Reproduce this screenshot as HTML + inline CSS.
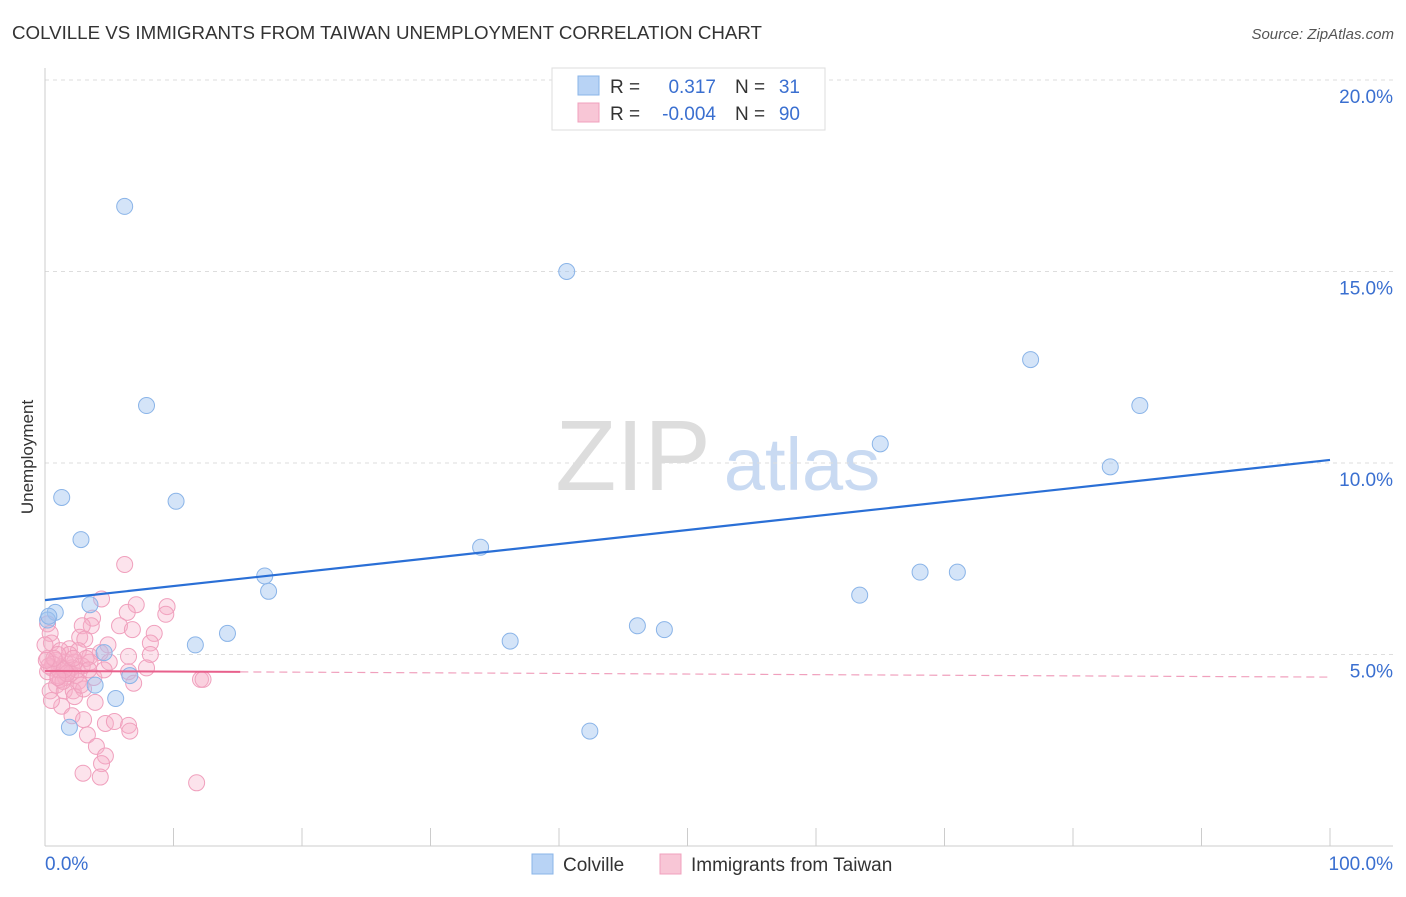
<!DOCTYPE html>
<html><head><meta charset="utf-8"><style>
body{margin:0;background:#fff;font-family:"Liberation Sans",sans-serif;}
svg text{font-family:"Liberation Sans",sans-serif;}
</style></head><body>
<svg id="chart" width="1406" height="892">
<text x="12" y="39" font-size="18" fill="#333" textLength="750" lengthAdjust="spacingAndGlyphs">COLVILLE VS IMMIGRANTS FROM TAIWAN UNEMPLOYMENT CORRELATION CHART</text>
<text x="1394" y="39" font-size="15" fill="#555" font-style="italic" text-anchor="end">Source: ZipAtlas.com</text>
<text transform="translate(33,457) rotate(-90)" font-size="17" fill="#333" text-anchor="middle">Unemployment</text>
<g>
<text x="633" y="490" font-size="100" fill="#ddd" font-family="Liberation Serif,serif" text-anchor="middle">ZIP</text>
<text x="802" y="490" font-size="74" fill="#c9daf2" text-anchor="middle">atlas</text>
</g>
<g id="grid"></g><g id="axes"></g><g id="marks"></g>
<g>
<rect x="552" y="68" width="273" height="62" fill="#fff" stroke="#ddd"/>
<rect x="578" y="76" width="21" height="19" fill="#b8d3f5" stroke="#8ab4e8"/>
<rect x="578" y="103" width="21" height="19" fill="#f8c6d6" stroke="#f0a0bd"/>
<text x="610" y="93" font-size="19" fill="#333">R =</text><text x="716" y="93" font-size="19" fill="#3a6fd0" text-anchor="end">0.317</text>
<text x="735" y="93" font-size="19" fill="#333">N =</text><text x="800" y="93" font-size="19" fill="#3a6fd0" text-anchor="end">31</text>
<text x="610" y="120" font-size="19" fill="#333">R =</text><text x="716" y="120" font-size="19" fill="#3a6fd0" text-anchor="end">-0.004</text>
<text x="735" y="120" font-size="19" fill="#333">N =</text><text x="800" y="120" font-size="19" fill="#3a6fd0" text-anchor="end">90</text>
</g>
<g>
<rect x="532" y="854" width="21" height="20" fill="#b8d3f5" stroke="#8ab4e8"/>
<text x="563" y="871" font-size="19" fill="#333">Colville</text>
<rect x="660" y="854" width="21" height="20" fill="#f8c6d6" stroke="#f0a0bd"/>
<text x="691" y="871" font-size="19" fill="#333">Immigrants from Taiwan</text>
</g>
</svg>
<script>
const yTicks=[5,10,15,20];
const yTickLabels=["5.0%","10.0%","15.0%","20.0%"];
const xTicks=[0,10,20,30,40,50,60,70,80,90,100];
const colvilleX=[6.2,40.6,7.9,76.7,85.2,65.0,82.9,1.3,10.2,2.8,33.9,17.1,68.1,71.0,17.4,63.4,3.5,0.8,0.2,46.1,48.2,14.2,11.7,36.2,4.6,6.6,3.9,5.5,1.9,42.4,0.3];
const colvilleY=[16.7,15.0,11.5,12.7,11.5,10.5,9.9,9.1,9.0,8.0,7.8,7.05,7.15,7.15,6.65,6.55,6.3,6.1,5.9,5.75,5.65,5.55,5.25,5.35,5.05,4.45,4.2,3.85,3.1,3.0,6.0];
const taiwanX=[6.2,4.4,7.1,9.5,6.4,9.4,3.7,3.6,5.8,6.8,2.9,8.5,2.7,0.2,0.4,3.1,8.2,4.9,1.9,0.5,1.2,2.6,4.3,3.5,6.5,8.2,0.2,0.8,1.6,2.3,3.5,0.5,1.3,2.1,2.9,7.9,6.5,0.2,1.0,1.6,2.4,1.8,2.6,12.1,12.3,6.9,0.9,1.5,2.2,3.0,2.3,3.9,1.3,2.1,3.0,4.7,5.4,6.5,6.6,3.3,4.0,4.7,4.4,2.96,4.3,11.8,1.2,1.9,1.0,0,0.4,0.5,1.1,2.0,3.2,0.6,1.4,2.5,0.3,1.7,3.8,5.0,0.7,2.8,1.5,0.1,2.2,3.4,1.0,4.6];
const taiwanY=[7.35,6.45,6.3,6.25,6.1,6.05,5.95,5.75,5.75,5.65,5.75,5.55,5.45,5.8,5.55,5.4,5.3,5.25,5.15,5.3,5.1,5.1,5.05,4.95,4.95,5.0,4.9,4.85,4.8,4.8,4.8,4.65,4.65,4.65,4.7,4.65,4.55,4.55,4.45,4.4,4.45,4.55,4.3,4.35,4.35,4.25,4.2,4.05,4.05,4.1,3.9,3.75,3.65,3.4,3.3,3.2,3.25,3.15,3.0,2.9,2.6,2.35,2.15,1.9,1.8,1.65,4.35,5.0,5.0,5.25,4.05,3.8,4.6,4.5,4.9,4.75,4.3,4.6,4.7,4.5,4.4,4.8,4.9,4.2,4.6,4.85,4.9,4.6,4.4,4.6];
const blueTrend=[6.42,10.08];
const pinkTrend=[4.57,4.41];
const X0=45,X1=1330,Y0=846,YPX=38.3;
const sx=v=>X0+(X1-X0)*v/100, sy=v=>Y0-v*YPX;
const NS="http://www.w3.org/2000/svg";
function mk(parent,tag,attrs){const e=document.createElementNS(NS,tag);for(const k in attrs)e.setAttribute(k,attrs[k]);document.getElementById(parent).appendChild(e);return e;}
yTicks.forEach((t,i)=>{
 const g=mk('grid','line',{x1:X0,x2:1393,y1:sy(t),y2:sy(t),stroke:'#ddd','stroke-dasharray':'4,4'});
 
 
 const l=mk('axes','text',{x:1393,y:sy(t)+23,'font-size':19,fill:'#3a6fd0','text-anchor':'end'});
 l.textContent=yTickLabels[i];
 
 
});
const ax=mk('axes','line',{x1:X0,x2:1393,y1:Y0,y2:Y0,stroke:'#ccc'});


const ay=mk('axes','line',{x1:X0,x2:X0,y1:68,y2:Y0,stroke:'#ccc'});


xTicks.forEach(t=>{
 const k=mk('axes','line',{x1:sx(t),x2:sx(t),y1:828,y2:Y0,stroke:'#ccc'});
 
 
});
const xl0=mk('axes','text',{x:45,y:870,'font-size':19,fill:'#3a6fd0'});xl0.textContent='0.0%';


const xl1=mk('axes','text',{x:1393,y:870,'font-size':19,fill:'#3a6fd0','text-anchor':'end'});xl1.textContent='100.0%';


taiwanX.forEach((v,i)=>{
 const c=mk('marks','circle',{cx:sx(v),cy:sy(taiwanY[i]),r:8,fill:'rgba(246,176,200,0.35)',stroke:'#f0a0bd','stroke-width':1});
 
 
});
colvilleX.forEach((v,i)=>{
 const c=mk('marks','circle',{cx:sx(v),cy:sy(colvilleY[i]),r:8,fill:'rgba(160,196,240,0.45)',stroke:'#8ab4e8','stroke-width':1});
 
 
});
const bl=mk('marks','line',{x1:sx(0),y1:sy(blueTrend[0]),x2:sx(100),y2:sy(blueTrend[1]),stroke:'#2a6fd6','stroke-width':2.2});


const pm=pinkTrend[0]+(pinkTrend[1]-pinkTrend[0])*0.152;
const ps=mk('marks','line',{x1:sx(0),y1:sy(pinkTrend[0]),x2:sx(15.2),y2:sy(pm),stroke:'#e8608c','stroke-width':2});


const pd=mk('marks','line',{x1:sx(15.2),y1:sy(pm),x2:sx(100),y2:sy(pinkTrend[1]),stroke:'#f0a0bd','stroke-width':1.2,'stroke-dasharray':'8,5'});


</script>
</body></html>
